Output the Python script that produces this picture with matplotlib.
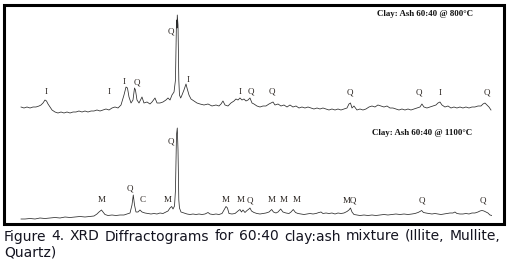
import matplotlib
matplotlib.use("Agg")
import matplotlib.pyplot as plt
from matplotlib.patches import Rectangle

# 2-theta (deg) and counts
tt_800 = [5.14, 5.55, 5.96, 6.38, 6.79, 7.20, 7.62, 7.89, 8.17, 8.44, 8.65, 8.86, 9.13, 9.41, 9.82,
          10.23, 10.65, 11.06, 11.47, 11.89, 12.30, 12.71, 13.12, 13.54, 13.95, 14.36, 14.78, 15.19,
          15.60, 16.02, 16.43, 16.84, 17.26, 17.67, 18.08, 18.50, 18.91, 19.32, 19.60, 19.80, 20.01,
          20.29, 20.56, 20.77, 20.90, 21.11, 21.39, 21.80, 22.07, 22.49, 22.90, 23.18, 23.59, 23.87,
          24.28, 24.69, 25.10, 25.38, 25.66, 25.93, 26.21, 26.41, 26.55, 26.62, 26.66, 26.76, 26.87,
          26.96, 27.13, 27.31, 27.58, 27.86, 28.00, 28.27, 28.55, 28.96, 29.37, 29.79, 30.34, 30.89,
          31.44, 31.99, 32.40, 32.68, 32.95, 33.23, 33.64, 34.05, 34.47, 34.74, 35.02, 35.29, 35.57,
          35.84, 36.12, 36.40, 36.67, 36.95, 37.22, 37.63, 38.05, 38.46, 38.87, 39.29, 39.56, 39.84,
          40.11, 40.53, 40.94, 41.35, 41.77, 42.18, 42.59, 43.01, 43.42, 43.83, 44.24, 44.66, 45.07,
          45.48, 45.90, 46.31, 46.72, 47.14, 47.55, 47.96, 48.38, 48.79, 49.20, 49.61, 50.03, 50.30,
          50.51, 50.72, 50.99, 51.40, 51.82, 52.23, 52.64, 53.06, 53.47, 53.88, 54.29, 54.71, 55.12,
          55.54, 55.95, 56.36, 56.77, 57.19, 57.60, 58.01, 58.43, 58.84, 59.25, 59.67, 60.08, 60.35,
          60.63, 61.04, 61.46, 61.87, 62.28, 62.56, 62.83, 63.11, 63.52, 63.94, 64.35, 64.76, 65.17,
          65.59, 66.00, 66.41, 66.83, 67.24, 67.65, 68.07, 68.48, 68.76, 69.03, 69.31, 69.58, 69.86]
cps_800 = [130, 120, 130, 120, 130, 130, 140, 150, 170, 200, 190, 160, 130, 100, 80,
           70, 80, 70, 80, 70, 80, 80, 90, 80, 90, 80, 90, 90,
           100, 90, 100, 110, 100, 120, 130, 120, 150, 250, 330, 320, 230,
           170, 200, 320, 300, 200, 170, 230, 170, 180, 160, 180, 220, 170,
           170, 180, 200, 220, 200, 250, 280, 400, 1000, 920, 1050, 950, 400,
           250, 220, 250, 300, 360, 320, 250, 210, 190, 170, 160, 150, 160,
           140, 150, 140, 160, 190, 150, 140, 170, 190, 210, 200, 220, 200,
           210, 190, 200, 220, 170, 160, 140, 130, 140, 140, 160, 170, 180,
           150, 160, 140, 150, 130, 150, 130, 140, 120, 130, 120, 130, 120,
           110, 120, 110, 120, 110, 100, 110, 100, 110, 100, 110, 120, 160,
           170, 120, 140, 100, 110, 100, 110, 130, 140, 130, 150, 140, 130,
           140, 120, 120, 110, 100, 110, 100, 110, 100, 110, 120, 130, 160,
           130, 120, 130, 140, 150, 170, 180, 150, 130, 140, 120, 130, 120,
           130, 120, 130, 120, 130, 130, 140, 140, 160, 170, 150, 130, 100]

tt_1100 = [5.14, 5.69, 6.38, 7.07, 7.75, 8.44, 9.13, 9.82, 10.51, 11.20, 11.89, 12.57, 13.26, 13.95,
           14.64, 15.19, 15.60, 15.88, 16.22, 16.43, 16.70, 17.12, 17.67, 18.22, 18.77, 19.32, 19.73,
           20.15, 20.42, 20.60, 20.77, 20.97, 21.25, 21.52, 21.80, 22.21, 22.63, 23.04, 23.45, 23.86,
           24.28, 24.69, 25.10, 25.38, 25.66, 25.89, 26.07, 26.28, 26.41, 26.55, 26.66, 26.76, 26.87,
           26.96, 27.17, 27.58, 28.00, 28.41, 28.82, 29.24, 29.65, 30.06, 30.48, 30.89, 31.16, 31.58,
           31.99, 32.40, 32.82, 33.09, 33.37, 33.57, 33.78, 34.19, 34.61, 35.02, 35.29, 35.50, 35.71,
           35.98, 36.26, 36.53, 36.67, 36.88, 37.22, 37.63, 38.05, 38.46, 38.87, 39.29, 39.66, 39.90,
           40.25, 40.53, 40.90, 41.21, 41.63, 42.04, 42.32, 42.63, 42.94, 43.28, 43.69, 44.11, 44.52,
           44.93, 45.35, 45.76, 46.17, 46.45, 46.72, 47.14, 47.55, 47.96, 48.38, 48.79, 49.20, 49.61,
           50.03, 50.30, 50.51, 50.72, 50.99, 51.40, 51.82, 52.37, 52.92, 53.47, 54.02, 54.57, 55.12,
           55.67, 56.22, 56.77, 57.33, 57.88, 58.43, 58.98, 59.39, 59.81, 60.08, 60.31, 60.56, 60.90,
           61.32, 61.73, 62.14, 62.56, 62.97, 63.38, 63.80, 64.21, 64.62, 64.90, 65.17, 65.59, 66.00,
           66.41, 66.83, 67.24, 67.65, 68.07, 68.34, 68.62, 68.89, 69.17, 69.44, 69.72, 70.00]
cps_1100 = [30, 30, 35, 30, 40, 35, 40, 45, 40, 50, 45, 50, 55, 50,
            55, 60, 80, 100, 120, 100, 75, 65, 70, 65, 70, 70, 80,
            90, 170, 270, 170, 100, 100, 120, 100, 90, 85, 80, 85, 80,
            90, 85, 100, 110, 140, 155, 130, 160, 320, 870, 940, 720, 220,
            140, 100, 90, 80, 75, 80, 75, 80, 75, 80, 95, 80, 75,
            80, 75, 85, 120, 155, 140, 85, 80, 85, 110, 125, 100, 120,
            95, 115, 130, 140, 110, 95, 85, 80, 85, 90, 100, 125, 100,
            90, 100, 130, 100, 90, 85, 100, 125, 95, 85, 80, 75, 80,
            85, 80, 85, 95, 100, 85, 90, 85, 90, 80, 90, 85, 90,
            105, 120, 140, 100, 75, 70, 65, 70, 65, 70, 65, 70, 75,
            70, 75, 80, 75, 80, 75, 80, 85, 95, 105, 115, 95, 90,
            85, 80, 85, 80, 75, 80, 85, 90, 90, 100, 85, 80, 80,
            85, 80, 90, 90, 100, 110, 115, 110, 100, 90, 70, 65]

# phase labels: (text, 2-theta, counts)
lab_800 = [("I", 8.58, 283), ("I", 17.26, 283), ("I", 19.32, 383), ("Q", 21.11, 373),
           ("Q", 25.79, 883), ("I", 28.13, 400), ("I", 35.29, 283), ("Q", 36.77, 283),
           ("Q", 39.66, 283), ("Q", 50.44, 270), ("Q", 59.95, 270), ("I", 62.84, 270),
           ("Q", 69.27, 270)]
lab_1100 = [("M", 16.25, 220), ("Q", 20.15, 330), ("C", 21.90, 220), ("M", 25.38, 220),
            ("Q", 25.75, 803), ("M", 33.37, 220), ("M", 35.43, 220), ("Q", 36.67, 220),
            ("M", 39.66, 220), ("M", 41.26, 220), ("M", 43.10, 220), ("MQ", 50.44, 220),
            ("Q", 60.31, 220), ("Q", 68.76, 220)]
title_800 = "Clay: Ash 60:40 @ 800°C"
title_1100 = "Clay: Ash 60:40 @ 1100°C"
caption1 = "Figure 4. XRD Diffractograms for 60:40 clay:ash mixture (Illite, Mullite,"
caption2 = "Quartz)"

W, H = 509, 262
fig = plt.figure(figsize=(W / 100, H / 100), dpi=100)
fig.patch.set_facecolor("white")

ax1 = fig.add_axes([20 / W, 142 / H, 472 / W, 110 / H])
ax2 = fig.add_axes([20 / W, 40 / H, 472 / W, 110 / H])
serif = "Liberation Serif"

for ax, tt, cps, labs, title, tx, ty in [
        (ax1, tt_800, cps_800, lab_800, title_800, 60.77, 1060),
        (ax2, tt_1100, cps_1100, lab_1100, title_1100, 60.43, 890)]:
    ax.plot(tt, cps, color="#2b2b2b", lw=0.55)
    for txt, x, y in labs:
        ax.text(x, y, txt, ha="center", va="center", fontsize=6.5,
                family=serif, color="#2a2420")
    ax.text(tx, ty, title, ha="center", va="center", fontsize=6.4,
            family=serif, weight="bold", color="#111111")
    ax.set_xlim(5, 70)
    ax.set_ylim(0, 1100)
    ax.axis("off")
    ax.patch.set_alpha(0)

# frame around the figure panel
fig.patches.append(Rectangle((3.5 / W, 38.5 / H), 500 / W, 219 / H, transform=fig.transFigure,
                             fill=False, edgecolor="black", lw=2.2))

# justified caption, first line spread from x=4 to x=500 px
fs = 10
words = caption1.split()
renderer = fig.canvas.get_renderer()
texts = [fig.text(0, 0, w, fontsize=fs, color="#141420") for w in words]
widths = [t.get_window_extent(renderer).width for t in texts]
gap = (496 - sum(widths)) / (len(words) - 1)
x = 4
for t, w in zip(texts, widths):
    t.set_position((x / W, (H - 240.5) / H))
    t.set_va("baseline")
    x += w + gap
fig.text(4 / W, (H - 256) / H, caption2, fontsize=fs, color="#141420", va="baseline")

fig.savefig("out.png", dpi=100)
